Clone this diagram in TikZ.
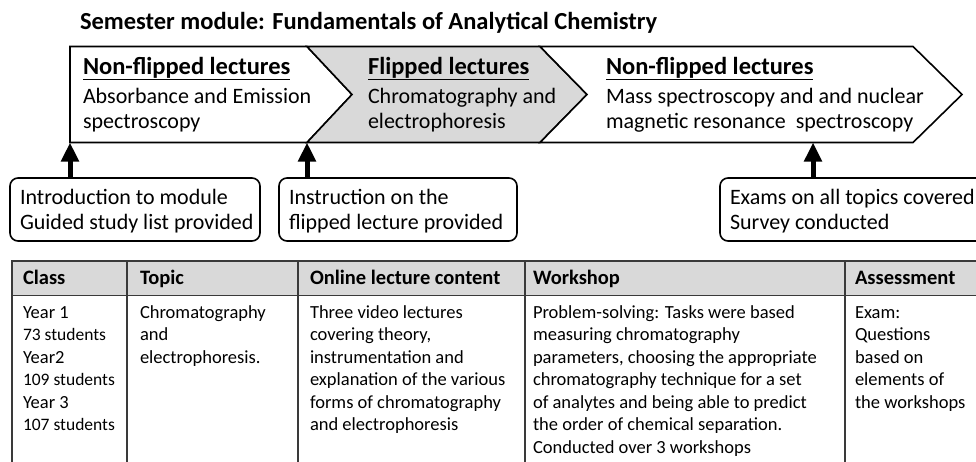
\documentclass[tikz,border=0pt]{standalone}
\usepackage{fontspec}
\setmainfont{Carlito}
\usetikzlibrary{arrows.meta}
\definecolor{bandgray}{HTML}{D9D9D9}
\definecolor{rulegray}{HTML}{3A3A3A}
\newcommand{\studfont}{\fontsize{17.5}{22.5}\selectfont}
\begin{document}
\begin{tikzpicture}[x=1pt,y=-1pt,
  every node/.style={inner sep=0pt, outer sep=0pt},
  seg/.style={draw=black, line width=1.6pt, line join=miter},
  titlefont/.style={anchor=base west, font=\fontsize{24.5}{29}\selectfont\bfseries},
  head/.style={anchor=base west, font=\fontsize{24.5}{29}\selectfont\bfseries},
  % multi-line nodes are placed by the baseline of their last line
  body/.style={anchor=base west, align=left, font=\fontsize{22}{25.5}\selectfont},
  notebox/.style={draw=black, fill=white, line width=1.6pt, rounded corners=8pt,
    anchor=north west, minimum height=63pt},
  notetext/.style={anchor=west, xshift=10pt, yshift=-1.5pt, align=left,
    font=\fontsize{22}{25.5}\selectfont},
  uparrow/.style={line width=5pt, -{Triangle[width=17pt,length=19pt]}},
  grid/.style={draw=rulegray, line width=1.2pt},
  th/.style={anchor=base west, font=\fontsize{20.5}{22.5}\selectfont\bfseries},
  td/.style={anchor=base west, align=left, font=\fontsize{18.5}{22.5}\selectfont},
]
\clip (0,0) rectangle (976,461);
\fill[white] (0,0) rectangle (976,461);

% title
\node[titlefont] (title) at (80,29) {Semester module: Fundamentals of Analytical Chemistry};

% three-stage chevron band
\filldraw[seg, fill=white] (70,46.5) -- (307,46.5) -- (352,94.5) -- (307,142.5) -- (70,142.5) -- cycle;
\filldraw[seg, fill=bandgray] (307,46.5) -- (540,46.5) -- (587,94.5) -- (540,142.5) -- (307,142.5) -- (352,94.5) -- cycle;
\filldraw[seg, fill=white] (540,46.5) -- (913,46.5) -- (962,94.5) -- (913,142.5) -- (540,142.5) -- (587,94.5) -- cycle;

\coordinate (in1) at (70,142.5);
\coordinate (in2) at (307,142.5);
\coordinate (in3) at (813,142.5);

\node[head] (h1) at (83,74) {\underline{Non-flipped lectures}};
\node[body] (t1) at (83,128.5) {Absorbance and Emission\\spectroscopy};
\node[head] (h2) at (368,74) {\underline{Flipped lectures}};
\node[body] (t2) at (368,128.5) {Chromatography and\\electrophoresis};
\node[head] (h3) at (606,74) {\underline{Non-flipped lectures}};
\node[body] (t3) at (606,128.5) {Mass spectroscopy and and nuclear\\magnetic resonance \ spectroscopy};

% event boxes under the band
\node[notebox, minimum width=250pt] (b1) at (10,178) {};
\node[notebox, minimum width=238pt] (b2) at (279,178) {};
\node[notebox, minimum width=290pt] (b3) at (720,178) {};
\node[notetext] (b1t) at (b1.west) {Introduction to module\\Guided study list provided};
\node[notetext] (b2t) at (b2.west) {Instruction on the\\flipped lecture provided};
\node[notetext] (b3t) at (b3.west) {Exams on all topics covered\\Survey conducted};

\draw[uparrow] (b1.north -| in1) -- (in1);
\draw[uparrow] (b2.north -| in2) -- (in2);
\draw[uparrow] (b3.north -| in3) -- (in3);

% table
\fill[bandgray] (12,261) rectangle (990,295.5);
\draw[grid] (990,261) -- (12,261) -- (12,470);
\draw[grid] (12,295.5) -- (990,295.5);
\foreach \cx in {127,298,525,845} \draw[grid] (\cx,261) -- (\cx,470);

\node[th] (c1) at (23,284.7) {Class};
\node[th] (c2) at (140,284.7) {Topic};
\node[th] (c3) at (310,284.7) {Online lecture content};
\node[th] (c4) at (533,284.7) {Workshop};
\node[th] (c5) at (855,284.7) {Assessment};

\node[td] (d1) at (23,430.5) {Year 1\\{\studfont 73 students}\\Year2\\{\studfont 109 students}\\Year 3\\{\studfont 107 students}};
\node[td] (d2) at (140,363) {Chromatography\\and\\electrophoresis.};
\node[td] (d3) at (310,430.5) {Three video lectures\\covering theory,\\instrumentation and\\explanation of the various\\forms of chromatography\\and electrophoresis};
\node[td] (d4) at (533,453) {Problem-solving: Tasks were based\\measuring chromatography\\parameters, choosing the appropriate\\chromatography technique for a set\\of analytes and being able to predict\\the order of chemical separation.\\Conducted over 3 workshops};
\node[td] (d5) at (855,408) {Exam:\\Questions\\based on\\elements of\\the workshops};
\end{tikzpicture}
\end{document}
